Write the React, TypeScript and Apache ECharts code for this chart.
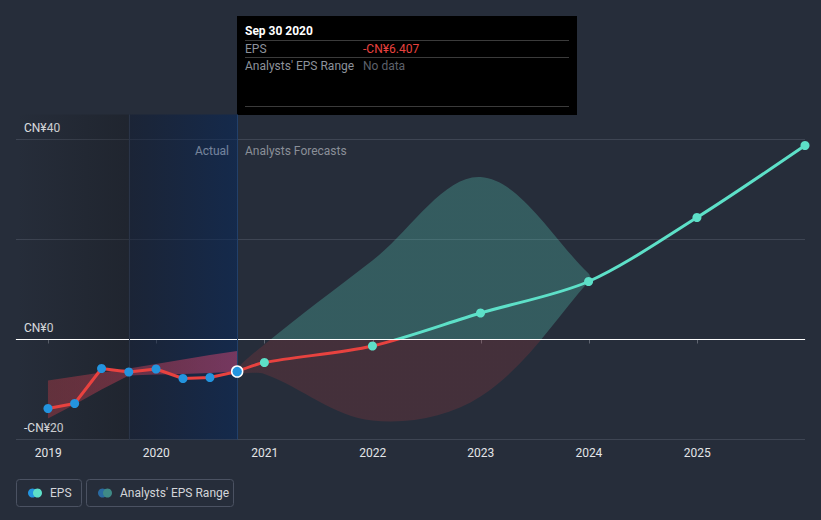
import React, { useEffect, useRef } from 'react';
import * as echarts from 'echarts';

// ---- data ----
const yearTicks = ['2019', '2020', '2021', '2022', '2023', '2024', '2025'];
const axisStart = '2018-09-14';
const axisEnd = '2025-12-31';

const yTickValues = [-20, 0, 20, 40];
const yTickLabels = ['-CN¥20', 'CN¥0', '', 'CN¥40'];

const actualDates = ['2018-12-31', '2019-03-31', '2019-06-30', '2019-09-30', '2019-12-31', '2020-03-31', '2020-06-30', '2020-09-30'];
const actualEps = [-13.8, -12.8, -5.8, -6.5, -5.9, -7.8, -7.6, -6.407];

const forecastDates = ['2020-09-30', '2020-12-31', '2021-12-31', '2022-12-31', '2023-12-31', '2024-12-31', '2025-12-31'];
const forecastEps = [-6.407, -4.6, -1.3, 5.3, 11.6, 24.4, 38.8];

const pastRangeLow = [-15.8, -13.0, -10.0, -7.2, -7.0, -6.9, -6.7, -6.4];
const pastRangeHigh = [-8.2, -7.4, -6.6, -5.8, -4.9, -4.0, -3.1, -2.3];

const futureRangeDates = ['2020-09-30', '2020-12-31', '2021-12-31', '2022-12-31', '2023-12-31'];
const futureRangeLow = [-6.4, -6.9, -16.2, -11.4, 11.6];
const futureRangeHigh = [-6.4, -1.0, 15.8, 32.5, 13.2];

const actualZoneStart = '2019-09-30';
const actualZoneEnd = '2020-09-30';

// ---- helpers ----
const t = (s: string) => Date.parse(s + 'T00:00:00Z');
const FONT = 'Roboto, "Noto Sans", sans-serif';
const RED = '#e8423f';
const TEAL = '#5de0c8';
const BLUE = '#2394df';
const Y_MIN = -20;
const Y_MAX = 45;

export default function App() {
  const ref = useRef<HTMLDivElement>(null);

  useEffect(() => {
    if (!ref.current) return;
    const chart = echarts.init(ref.current, undefined, { renderer: 'svg' });

    const yearValues = yearTicks.map((y) => t(y + '-01-01'));

    const tooltipText = (text: string, x: number, y: number, fill: string, bold = false, align = 'left') => ({
      type: 'text',
      silent: true,
      style: { text, x, y, fill, font: `${bold ? 'bold ' : ''}12px ${FONT}`, align, verticalAlign: 'middle' },
    });
    const hline = (x1: number, x2: number, y: number, stroke: string) => ({
      type: 'line',
      silent: true,
      shape: { x1, y1: y, x2, y2: y },
      style: { stroke, lineWidth: 1 },
    });

    const pastBandRender = (params: any, api: any) => {
      if (params.dataIndex !== 0) return null;
      const upper = actualDates.map((d, i) => api.coord([t(d), pastRangeHigh[i]]));
      const lower = actualDates.map((d, i) => api.coord([t(d), pastRangeLow[i]])).reverse();
      return {
        type: 'polygon',
        silent: true,
        shape: { points: upper.concat(lower) },
        style: {
          fill: {
            type: 'linear', x: 0, y: 0, x2: 1, y2: 0,
            colorStops: [
              { offset: 0, color: 'rgba(200,60,70,0.38)' },
              { offset: 1, color: 'rgba(222,72,118,0.48)' },
            ],
          },
        },
      };
    };

    const futureBandRender = (params: any, api: any) => {
      if (params.dataIndex !== 0) return null;
      const upper = futureRangeDates.map((d, i) => api.coord([t(d), futureRangeHigh[i]]));
      const lower = futureRangeDates.map((d, i) => api.coord([t(d), futureRangeLow[i]])).reverse();
      const pts = upper.concat(lower.slice(0, lower.length - 1));
      const x0 = t(axisStart);
      const yTop = api.coord([x0, Y_MAX])[1];
      const yBot = api.coord([x0, Y_MIN])[1];
      const yZero = api.coord([x0, 0])[1];
      const f = (yZero - yTop) / (yBot - yTop);
      const tealC = 'rgba(93,224,200,0.26)';
      const redC = 'rgba(205,62,62,0.18)';
      return {
        type: 'polygon',
        silent: true,
        shape: { points: pts, smooth: 0.35 },
        style: {
          fill: {
            type: 'linear', x: 0, y: yTop, x2: 0, y2: yBot, global: true,
            colorStops: [
              { offset: 0, color: tealC },
              { offset: f, color: tealC },
              { offset: f, color: redC },
              { offset: 1, color: redC },
            ],
          },
        },
      };
    };

    const option: any = {
      animation: false,
      backgroundColor: '#262d3a',
      textStyle: { fontFamily: FONT },
      grid: { left: 16, right: 16, top: 114.5, bottom: 80.5, containLabel: false },
      tooltip: { show: false },
      xAxis: {
        type: 'value',
        min: t(axisStart),
        max: t(axisEnd),
        axisLine: { lineStyle: { color: '#5f6571', width: 1 } },
        axisTick: { show: true, length: 4, customValues: yearValues, lineStyle: { color: '#5f6571' } },
        axisLabel: {
          customValues: yearValues,
          formatter: (v: number) => String(new Date(v).getUTCFullYear()),
          color: '#e3e5e8',
          fontSize: 12,
          margin: 7,
          fontFamily: FONT,
        },
        splitLine: { show: false },
      },
      yAxis: {
        type: 'value',
        min: Y_MIN,
        max: Y_MAX,
        interval: 20,
        axisLine: { show: false },
        axisTick: { show: false },
        axisLabel: {
          inside: true,
          margin: 8,
          verticalAlign: 'bottom',
          padding: [0, 0, 6, 0],
          color: '#e3e5e8',
          fontSize: 12,
          fontFamily: FONT,
          formatter: (v: number) => {
            const i = yTickValues.indexOf(v);
            return i >= 0 ? yTickLabels[i] : '';
          },
        },
        splitLine: { showMaxLine: false, lineStyle: { color: '#3e4553', width: 1 } },
      },
      visualMap: [
        {
          type: 'piecewise',
          show: false,
          seriesIndex: 1,
          dimension: 1,
          pieces: [
            { gt: -1000, lt: 0, color: RED },
            { gte: 0, lt: 1000, color: TEAL },
          ],
        },
      ],
      series: [
        {
          name: 'EPS actual',
          type: 'line',
          z: 3,
          data: actualDates.map((d, i) => [t(d), actualEps[i]]),
          showSymbol: false,
          lineStyle: { color: RED, width: 3 },
          silent: true,
        },
        {
          name: 'EPS forecast',
          type: 'line',
          z: 3,
          data: forecastDates.map((d, i) => [t(d), forecastEps[i]]),
          showSymbol: false,
          smooth: 0.3,
          lineStyle: { width: 3 },
          silent: true,
        },
        {
          name: 'past range',
          type: 'custom',
          z: 1,
          silent: true,
          renderItem: pastBandRender,
          encode: { x: 0, y: [1, 2] },
          data: actualDates.map((d, i) => [t(d), pastRangeLow[i], pastRangeHigh[i]]),
          markArea: {
            silent: true,
            data: [
              [
                {
                  xAxis: t(axisStart),
                  itemStyle: {
                    color: {
                      type: 'linear', x: 0, y: 0, x2: 1, y2: 0,
                      colorStops: [
                        { offset: 0, color: 'rgba(20,22,26,0)' },
                        { offset: 1, color: 'rgba(20,22,26,0.35)' },
                      ],
                    },
                  },
                },
                { xAxis: t(actualZoneStart) },
              ],
              [
                {
                  xAxis: t(actualZoneStart),
                  itemStyle: {
                    color: {
                      type: 'linear', x: 0, y: 0, x2: 1, y2: 0,
                      colorStops: [
                        { offset: 0, color: 'rgba(16,27,50,0.5)' },
                        { offset: 1, color: 'rgba(6,39,90,0.55)' },
                      ],
                    },
                  },
                },
                { xAxis: t(actualZoneEnd) },
              ],
            ],
          },
          markLine: {
            silent: true,
            symbol: 'none',
            label: { show: false },
            data: [
              { yAxis: 0, lineStyle: { color: '#ffffff', width: 1, type: 'solid' } },
              { xAxis: t(actualZoneStart), lineStyle: { color: '#2a3447', width: 1, type: 'solid' } },
              { xAxis: t(actualZoneEnd), lineStyle: { color: '#22406a', width: 1, type: 'solid' } },
            ],
          },
        },
        {
          name: 'future range',
          type: 'custom',
          z: 1,
          silent: true,
          renderItem: futureBandRender,
          encode: { x: 0, y: [1, 2] },
          data: futureRangeDates.map((d, i) => [t(d), futureRangeLow[i], futureRangeHigh[i]]),
        },
        {
          name: 'EPS actual points',
          type: 'scatter',
          z: 5,
          symbolSize: 9,
          silent: true,
          data: actualDates.map((d, i) => {
            const last = i === actualDates.length - 1;
            return {
              value: [t(d), actualEps[i]],
              symbolSize: last ? 11 : 9,
              itemStyle: last
                ? { color: BLUE, opacity: 1, borderColor: '#ffffff', borderWidth: 1.5 }
                : { color: BLUE, opacity: 1 },
            };
          }),
        },
        {
          name: 'EPS forecast points',
          type: 'scatter',
          z: 5,
          symbolSize: 9,
          silent: true,
          itemStyle: { color: TEAL, opacity: 1 },
          data: forecastDates.slice(1).map((d, i) => [t(d), forecastEps[i + 1]]),
        },
      ],
      graphic: [
        // tooltip box
        { type: 'rect', silent: true, shape: { x: 237, y: 16, width: 340, height: 99 }, style: { fill: '#000000' } },
        tooltipText('Sep 30 2020', 245, 31, '#ffffff', true),
        hline(245, 569, 40.5, '#3b3b3b'),
        tooltipText('EPS', 245, 48.5, '#8d929b'),
        tooltipText('-CN¥6.407', 363, 48.5, RED),
        hline(245, 569, 57.5, '#3b3b3b'),
        tooltipText("Analysts' EPS Range", 245, 65.5, '#8d929b'),
        tooltipText('No data', 363, 65.5, '#5d616b'),
        hline(245, 569, 106.5, '#3b3b3b'),
        // zone labels
        tooltipText('Actual', 229, 151, '#f0f1f3', false, 'right'),
        tooltipText('Analysts Forecasts', 245, 151, '#8a8f98'),
        // legend
        { type: 'rect', silent: true, shape: { x: 16.5, y: 479.5, width: 65, height: 27, r: 3 }, style: { fill: 'none', stroke: '#4b5262', lineWidth: 1 } },
        { type: 'circle', silent: true, shape: { cx: 32.5, cy: 493, r: 4.5 }, style: { fill: BLUE } },
        { type: 'circle', silent: true, shape: { cx: 37.5, cy: 493, r: 4.5 }, style: { fill: TEAL } },
        tooltipText('EPS', 50, 493, '#d3d5d9'),
        { type: 'rect', silent: true, shape: { x: 86.5, y: 479.5, width: 147, height: 27, r: 3 }, style: { fill: 'none', stroke: '#4b5262', lineWidth: 1 } },
        { type: 'circle', silent: true, shape: { cx: 102.5, cy: 493, r: 4.5 }, style: { fill: '#2a6aa0' } },
        { type: 'circle', silent: true, shape: { cx: 107.5, cy: 493, r: 4.5 }, style: { fill: '#3f8a86' } },
        tooltipText("Analysts' EPS Range", 120, 493, '#d3d5d9'),
      ],
    };

    chart.setOption(option);
    return () => chart.dispose();
  }, []);

  return <div ref={ref} style={{ position: 'absolute', left: 0, top: 0, width: 821, height: 520 }} />;
}
